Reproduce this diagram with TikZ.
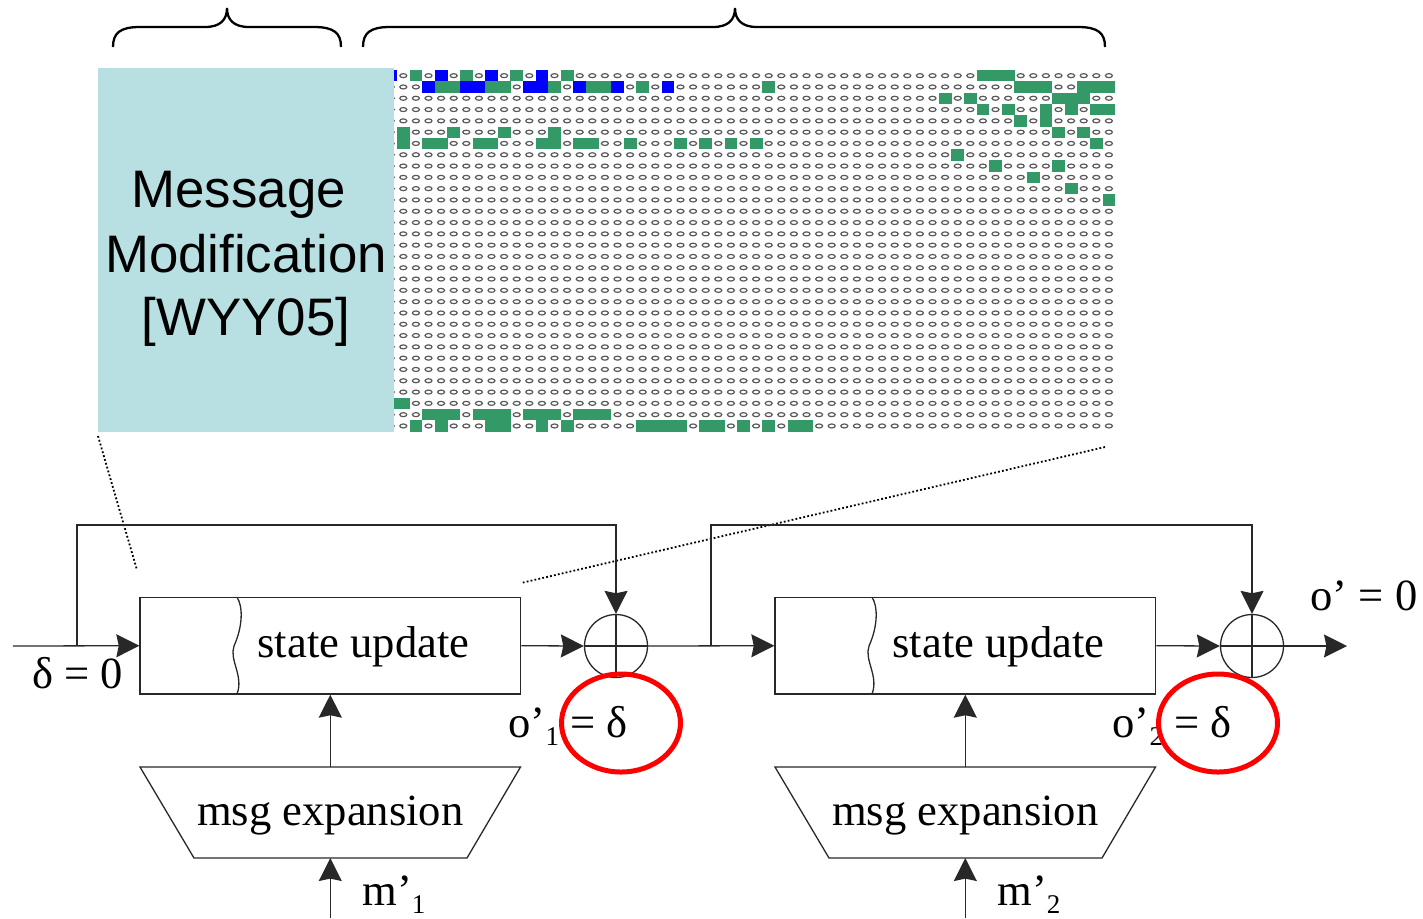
\documentclass[tikz,border=0pt]{standalone}
\usepackage{fontspec}
\setmainfont{Liberation Serif}
\newfontfamily\sansf{Liberation Sans}
\usetikzlibrary{arrows.meta,shapes.geometric}
\definecolor{tealbg}{RGB}{184,224,227}
\definecolor{bitgreen}{RGB}{51,153,102}
\definecolor{bitblue}{RGB}{0,0,255}
\definecolor{linegray}{RGB}{40,40,40}
\newcommand\lowidx[1]{\raisebox{-4pt}{\fontsize{13.5}{14}\selectfont #1}}

\begin{document}
\begin{tikzpicture}[x=0.5pt,y=-0.5pt,
  wire/.style={draw=linegray, line width=0.65pt},
  arr/.style={wire, -{Stealth[length=11.5pt,width=11.5pt,inset=1.2pt]}},
  blockbox/.style={draw=linegray, line width=0.65pt, minimum width=190.3pt, minimum height=48.3pt, inner sep=0pt},
  xorc/.style={circle, draw=linegray, line width=0.65pt, minimum size=31.5pt, inner sep=0pt},
  lbl/.style={inner sep=0pt, anchor=base west, font=\fontsize{22.3}{26}\selectfont},
  ctxt/.style={inner sep=0pt, anchor=base, font=\fontsize{22.3}{26}\selectfont},
  sanstxt/.style={inner sep=0pt, anchor=base, font=\sansf\fontsize{26.4}{32}\selectfont},
  hilite/.style={ellipse, draw=red, line width=2.5pt, minimum width=59.5pt, minimum height=49pt, inner sep=0pt},
  bitoval/.style={draw=black!65, line width=0.6pt},
  brace/.style={draw=black, line width=1.15pt},
  zoomline/.style={draw=black, line width=0.9pt, dash pattern=on 0.9pt off 1.1pt}
]
\useasboundingbox (0,0) rectangle (1423,918);

% ---- bit grid: 32 steps x 58 bits, every bit drawn as a small oval ----
\foreach \r in {0,...,31}{
  \foreach \c in {0,...,57}{
    \draw[bitoval] ({390.7+12.6*\c},{75.65+11.3*\r}) ellipse [x radius=1.75pt, y radius=1pt];
  }
}
% bits carrying a difference
\foreach \r/\c in {0/0,0/4,0/8,0/12,1/3,1/6,1/7,1/11,1/12,1/15,1/18,1/22}{
  \fill[bitblue] ({384.4+12.6*\c},{70+11.3*\r}) rectangle ++(12.7,11.4);
}
\foreach \r/\c in {0/2,0/6,0/10,0/14,0/47,0/48,0/49,
  1/4,1/5,1/8,1/9,1/13,1/16,1/17,1/20,1/30,1/50,1/51,1/52,1/55,1/56,1/57,
  2/44,2/46,2/53,2/54,2/55,
  3/47,3/49,3/52,3/54,3/56,3/57,
  4/50,4/52,
  5/1,5/5,5/9,5/13,5/53,5/55,
  6/1,6/3,6/4,6/7,6/8,6/12,6/13,6/15,6/16,6/19,6/23,6/25,6/27,6/29,6/56,
  7/45,8/48,8/53,9/51,10/54,11/57,
  29/0,29/1,
  30/3,30/4,30/5,30/7,30/8,30/9,30/11,30/12,30/13,30/15,30/16,30/17,
  31/2,31/4,31/8,31/9,31/12,31/14,31/20,31/21,31/22,31/23,31/25,31/26,31/28,31/30,31/32,31/33}{
  \fill[bitgreen] ({384.4+12.6*\c},{70+11.3*\r}) rectangle ++(12.7,11.4);
}

% ---- message modification panel ----
\node[fill=tealbg, minimum width=147.75pt, minimum height=182pt, inner sep=0pt] (mmbox) at (245.75,250) {};
\node[sanstxt] (mm1) at (246,207) {Message\kern7.3pt};
\node[sanstxt] (mm2) at (246,272) {Modification};
\node[sanstxt] (mm3) at (246,335) {[WYY05]};

% ---- braces over the two parts ----
\draw[brace] (113,47) .. controls (113,33) and (120,27) .. (140,27) -- (205,27)
  .. controls (220,27) and (227,20) .. (227,8) .. controls (227,20) and (234,27) .. (249,27)
  -- (314,27) .. controls (334,27) and (341,33) .. (341,47);
\draw[brace] (363,47) .. controls (363,33) and (370,27) .. (390,27) -- (713,27)
  .. controls (728,27) and (735,20) .. (735,8) .. controls (735,20) and (742,27) .. (757,27)
  -- (1078,27) .. controls (1098,27) and (1105,33) .. (1105,47);

% ---- zoom lines ----
\coordinate (d1a) at (98,436);
\coordinate (d1b) at (137,570);
\coordinate (d2a) at (1105,447);
\coordinate (d2b) at (521,583);
\draw[zoomline] (d1a) -- (d1b);
\draw[zoomline] (d2a) -- (d2b);

% ---- compression blocks ----
\node[blockbox] (su1) at (330.3,645.7) {};
\node[blockbox] (su2) at (965.3,645.7) {};
\draw[wire] (237,597.3) .. controls (243,606) and (243,626) .. (234,646)
  .. controls (229,660) and (244,676) .. (237,694);
\draw[wire] (872,597.3) .. controls (878,606) and (878,626) .. (869,646)
  .. controls (864,660) and (879,676) .. (872,694);
\node[ctxt] (su1t) at (363.5,657) {state update};
\node[ctxt] (su2t) at (998.5,657) {state update};

% feed-forward XORs
\node[xorc] (x1) at (616,646) {};
\node[xorc] (x2) at (1252,646) {};
\draw[wire] (x1.north) -- (x1.south);
\draw[wire] (x1.west) -- (x1.east);
\draw[wire] (x2.north) -- (x2.south);
\draw[wire] (x2.west) -- (x2.east);

\coordinate (src) at (13,646);
\coordinate (j1) at (77,646);
\coordinate (t1) at (77,525);
\coordinate (j2) at (711,646);
\coordinate (t2) at (711,525);
\coordinate (sink) at (1347,646);

\draw[arr] (src) -- (su1.west);
\draw[arr] (j1) -- (t1) -| (x1.north);
\draw[arr] (su1.east) -- (x1.west);
\draw[arr] (x1.east) -- (su2.west);
\draw[arr] (j2) -- (t2) -| (x2.north);
\draw[arr] (su2.east) -- (x2.west);
\draw[arr] (x2.east) -- (sink);

% ---- message expansion ----
\draw[wire] (140,767) -- (520.5,767) -- (467,858) -- (194,858) -- cycle;
\draw[wire] (775,767) -- (1155.5,767) -- (1102,858) -- (829,858) -- cycle;
\node[ctxt] (e1text) at (330.3,825) {msg expansion};
\node[ctxt] (e2text) at (965.3,825) {msg expansion};
\coordinate (e1t) at (330.3,767);
\coordinate (e1b) at (330.3,858);
\coordinate (m1in) at (330.3,918);
\coordinate (e2t) at (965.3,767);
\coordinate (e2b) at (965.3,858);
\coordinate (m2in) at (965.3,918);
\draw[arr] (e1t) -- (su1.south);
\draw[arr] (m1in) -- (e1b);
\draw[arr] (e2t) -- (su2.south);
\draw[arr] (m2in) -- (e2b);

% ---- labels ----
\node[lbl] (din) at (32,688) {δ = 0};
\node[lbl] (dout) at (1310,610) {o’ = 0};
\node[lbl] (o1) at (508,737) {o’\lowidx{1} = δ};
\node[lbl] (o2) at (1112,737) {o’\lowidx{2} = δ};
\node[lbl] (m1) at (362,905) {m’\lowidx{1}};
\node[lbl] (m2) at (997,905) {m’\lowidx{2}};

% highlighted outputs
\node[hilite] (r1) at (621,723) {};
\node[hilite] (r2) at (1218,723) {};
\end{tikzpicture}
\end{document}
